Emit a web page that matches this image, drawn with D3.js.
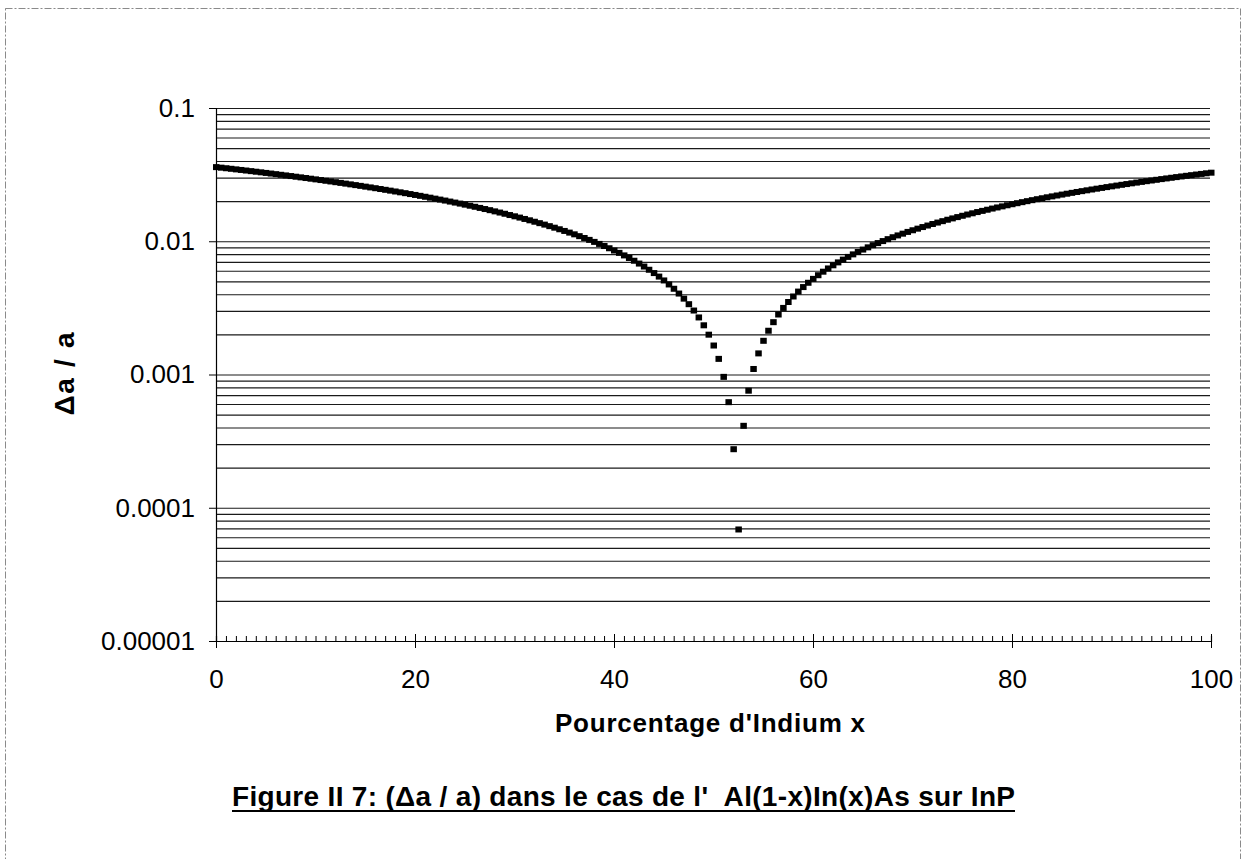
<!DOCTYPE html>
<html>
<head>
<meta charset="utf-8">
<script src="https://cdn.jsdelivr.net/npm/d3@7"></script>
<style>
  html, body { margin: 0; padding: 0; background: #fff; }
  svg { display: block; }
  text { font-family: "Liberation Sans", Arial, sans-serif; fill: #000; }
</style>
</head>
<body>
<div id="chart"></div>
<script>
// pourcentage d'indium (x), pas de 0.5
var pourcentage = [
  0,0.5,1,1.5,2,2.5,3,3.5,4,4.5,5,5.5,6,6.5,7,7.5,8,8.5,9,9.5,
  10,10.5,11,11.5,12,12.5,13,13.5,14,14.5,15,15.5,16,16.5,17,17.5,18,18.5,19,19.5,
  20,20.5,21,21.5,22,22.5,23,23.5,24,24.5,25,25.5,26,26.5,27,27.5,28,28.5,29,29.5,
  30,30.5,31,31.5,32,32.5,33,33.5,34,34.5,35,35.5,36,36.5,37,37.5,38,38.5,39,39.5,
  40,40.5,41,41.5,42,42.5,43,43.5,44,44.5,45,45.5,46,46.5,47,47.5,48,48.5,49,49.5,
  50,50.5,51,51.5,52,52.5,53,53.5,54,54.5,55,55.5,56,56.5,57,57.5,58,58.5,59,59.5,
  60,60.5,61,61.5,62,62.5,63,63.5,64,64.5,65,65.5,66,66.5,67,67.5,68,68.5,69,69.5,
  70,70.5,71,71.5,72,72.5,73,73.5,74,74.5,75,75.5,76,76.5,77,77.5,78,78.5,79,79.5,
  80,80.5,81,81.5,82,82.5,83,83.5,84,84.5,85,85.5,86,86.5,87,87.5,88,88.5,89,89.5,
  90,90.5,91,91.5,92,92.5,93,93.5,94,94.5,95,95.5,96,96.5,97,97.5,98,98.5,99,99.5,
  100
];

// delta a / a
var deltaA = [
  0.03600,0.03566,0.03531,0.03497,0.03462,0.03428,0.03394,0.03359,0.03325,0.03291,
  0.03256,0.03222,0.03188,0.03153,0.03119,0.03085,0.03050,0.03016,0.02982,0.02947,
  0.02913,0.02879,0.02844,0.02810,0.02775,0.02741,0.02707,0.02672,0.02638,0.02604,
  0.02569,0.02535,0.02501,0.02466,0.02432,0.02398,0.02363,0.02329,0.02295,0.02260,
  0.02226,0.02192,0.02157,0.02123,0.02088,0.02054,0.02020,0.01985,0.01951,0.01917,
  0.01882,0.01848,0.01814,0.01779,0.01745,0.01711,0.01676,0.01642,0.01608,0.01573,
  0.01539,0.01505,0.01470,0.01436,0.01401,0.01367,0.01333,0.01298,0.01264,0.01230,
  0.01195,0.01161,0.01127,0.01092,0.01058,0.01024,0.00989,0.00955,0.00921,0.00886,
  0.00852,0.00818,0.00783,0.00749,0.00714,0.00680,0.00646,0.00611,0.00577,0.00543,
  0.00508,0.00474,0.00440,0.00405,0.00371,0.00337,0.00302,0.00268,0.00234,0.00199,
  0.00165,0.00131,0.00096,0.00062,0.000275,
  0.0000687,0.000412,0.000756,0.00110,0.00144,0.00179,0.00213,0.00247,0.00282,0.00316,
  0.00350,0.00385,0.00419,0.00453,0.00488,0.00522,0.00556,0.00591,0.00625,0.00660,
  0.00694,0.00728,0.00763,0.00797,0.00831,0.00866,0.00900,0.00934,0.00969,0.01003,
  0.01037,0.01072,0.01106,0.01140,0.01175,0.01209,0.01243,0.01278,0.01312,0.01347,
  0.01381,0.01415,0.01450,0.01484,0.01518,0.01553,0.01587,0.01621,0.01656,0.01690,
  0.01724,0.01759,0.01793,0.01827,0.01862,0.01896,0.01930,0.01965,0.01999,0.02034,
  0.02068,0.02102,0.02137,0.02171,0.02205,0.02240,0.02274,0.02308,0.02343,0.02377,
  0.02411,0.02446,0.02480,0.02514,0.02549,0.02583,0.02617,0.02652,0.02686,0.02721,
  0.02755,0.02789,0.02824,0.02858,0.02892,0.02927,0.02961,0.02995,0.03030,0.03064,
  0.03098,0.03133,0.03167,0.03201,0.03236,0.03270
];

var xTicks = [0, 20, 40, 60, 80, 100];
var yTicks = [0.1, 0.01, 0.001, 0.0001, 0.00001];
var yTickLabels = ["0.1", "0.01", "0.001", "0.0001", "0.00001"];

var width = 1248, height = 859;
var plotLeft = 216, plotRight = 1211, plotTop = 108, plotBottom = 641;

var svg = d3.select("#chart").append("svg")
    .attr("width", width)
    .attr("height", height);

// cadre pointillé
svg.append("rect")
    .attr("x", 5.5).attr("y", 8.5)
    .attr("width", 1235).attr("height", 870)
    .attr("fill", "none")
    .attr("stroke", "#8a8a8a")
    .attr("stroke-width", 1)
    .attr("stroke-dasharray", "7,2,2,2");

var x = d3.scaleLinear().domain([0, 100]).range([plotLeft, plotRight]);
var y = d3.scaleLog().domain([0.00001, 0.1]).range([plotBottom, plotTop]);

// grille (majeure + mineure)
var grid = svg.append("g")
    .attr("transform", "translate(" + plotLeft + ",0)")
    .call(d3.axisLeft(y).tickValues(y.ticks()).tickSize(-(plotRight - 1 - plotLeft)).tickFormat(""));
grid.select(".domain").remove();
grid.selectAll("line").attr("stroke", "#1a1a1a").attr("stroke-width", 1.1);

// axe Y
var yAxis = svg.append("g")
    .attr("transform", "translate(" + plotLeft + ",0)")
    .call(d3.axisLeft(y).tickValues(yTicks).tickSize(7).tickPadding(14)
        .tickFormat(function (d, i) { return yTickLabels[i]; }));
yAxis.select(".domain").attr("stroke", "#000").attr("stroke-width", 1.2);
yAxis.selectAll("line").attr("stroke", "#000");
yAxis.selectAll("text")
    .style("font-family", "'Liberation Sans', Arial, sans-serif")
    .style("font-size", "26px")
    .attr("fill", "#000");

// axe X : petites graduations
var xMinor = svg.append("g")
    .attr("transform", "translate(0," + plotBottom + ")")
    .call(d3.axisBottom(x).tickValues(d3.range(0, 101, 1)).tickSize(-5).tickFormat(""));
xMinor.select(".domain").attr("stroke", "#000").attr("stroke-width", 1.2);
xMinor.selectAll("line").attr("stroke", "#000");

// axe X : graduations principales
var xAxis = svg.append("g")
    .attr("transform", "translate(0," + plotBottom + ")")
    .call(d3.axisBottom(x).tickValues(xTicks).tickSize(7).tickFormat(d3.format("d")));
xAxis.select(".domain").remove();
xAxis.selectAll("line").attr("y1", -7).attr("stroke", "#000");
xAxis.selectAll("text")
    .attr("y", 47).attr("dy", null)
    .style("font-family", "'Liberation Sans', Arial, sans-serif")
    .style("font-size", "26px")
    .attr("fill", "#000");

// points
var data = pourcentage.map(function (p, i) { return { x: p, v: deltaA[i] }; });
svg.append("g").selectAll("rect")
    .data(data)
    .enter()
    .append("rect")
    .attr("x", function (d) { return x(d.x) - 3; })
    .attr("y", function (d) { return y(d.v) - 3; })
    .attr("width", 6.5)
    .attr("height", 6)
    .attr("fill", "#000");

// titres
svg.append("text")
    .attr("x", 710).attr("y", 732)
    .attr("text-anchor", "middle")
    .attr("textLength", 310)
    .style("font-size", "26px")
    .style("font-weight", "bold")
    .text("Pourcentage d'Indium x");

svg.append("text")
    .attr("transform", "translate(74,374) rotate(-90)")
    .attr("text-anchor", "middle")
    .attr("textLength", 83)
    .style("font-size", "28px")
    .style("font-weight", "bold")
    .text("\u0394a / a");

svg.append("text")
    .attr("x", 232).attr("y", 806)
    .attr("textLength", 783)
    .style("font-size", "28px")
    .style("font-weight", "bold")
    .style("white-space", "pre")
    .text("Figure II 7: (\u0394a / a) dans le cas de l'  Al(1-x)In(x)As sur InP");

svg.append("line")
    .attr("x1", 232).attr("x2", 1015)
    .attr("y1", 811).attr("y2", 811)
    .attr("stroke", "#000")
    .attr("stroke-width", 2);
</script>
</body>
</html>
